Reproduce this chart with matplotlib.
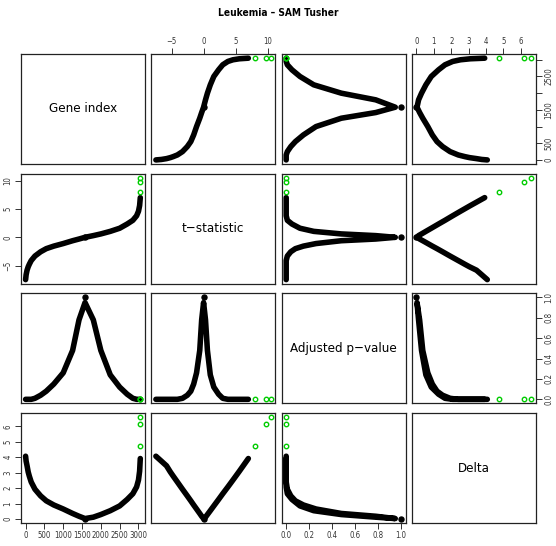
import matplotlib
matplotlib.use("Agg")
import matplotlib.pyplot as plt
from matplotlib import font_manager

# genes ordered by t-statistic; values sampled along that ordering
gene_index = [1, 15, 40, 70, 100, 150, 250, 400, 550, 750, 1000, 1250, 1420,
              1580, 1800, 2000, 2250, 2500, 2700, 2850, 2950, 3000, 3030, 3048]
t_stat = [-7.46, -6.6, -5.8, -5.2, -4.75, -4.1, -3.3, -2.55, -2.0, -1.55,
          -1.1, -0.6, -0.3, 0.0, 0.3, 0.6, 1.05, 1.6, 2.35, 3.0, 3.8, 4.6,
          5.6, 7.0]
adj_pvalue = [0.0, 0.0, 0.0, 0.0, 0.0, 0.0, 0.01, 0.04, 0.08, 0.15, 0.26,
              0.48, 0.78, 0.95, 0.78, 0.48, 0.24, 0.12, 0.05, 0.01, 0.0, 0.0,
              0.0, 0.0]
delta = [4.07, 3.75, 3.45, 3.05, 2.78, 2.4, 1.93, 1.5, 1.18, 0.91, 0.65,
         0.36, 0.18, 0.03, 0.12, 0.29, 0.54, 0.85, 1.27, 1.64, 2.08, 2.53,
         3.1, 3.92]

# gene sitting exactly at adjusted p = 1
peak_index = [1575]
peak_t = [0.0]
peak_pvalue = [1.0]
peak_delta = [0.0]

# the three top genes, highlighted
sig_index = [3049, 3050, 3051]
sig_t = [8.0, 9.8, 10.5]
sig_pvalue = [0.0, 0.0, 0.0]
sig_delta = [4.74, 6.18, 6.6]

labels = ["Gene index", "t\u2212statistic", "Adjusted p\u2212value", "Delta"]
ticks = [
    [0, 500, 1000, 1500, 2000, 2500, 3000],
    [-5, 0, 5, 10],
    [0.0, 0.2, 0.4, 0.6, 0.8, 1.0],
    [0, 1, 2, 3, 4, 5, 6],
]
tick_labels = [
    ["0", "500", "1000", "1500", "2000", "2500", "3000"],
    ["\u22125", "0", "5", "10"],
    ["0.0", "0.2", "0.4", "0.6", "0.8", "1.0"],
    ["0", "1", "2", "3", "4", "5", "6"],
]
# vertical gene-index axis only has room for every other label
index_vlabels = ["0", "500", "", "1500", "", "2500", ""]

cond = any(f.name == "DejaVu Sans" and f.stretch == "condensed"
           for f in font_manager.fontManager.ttflist)
if cond:
    plt.rcParams["font.family"] = ["DejaVu Sans"]
    plt.rcParams["font.stretch"] = "condensed"
else:
    plt.rcParams["font.family"] = ["Liberation Sans", "DejaVu Sans"]

main = [gene_index, t_stat, adj_pvalue, delta]
peak = [peak_index, peak_t, peak_pvalue, peak_delta]
extra = [sig_index, sig_t, sig_pvalue, sig_delta]


def padded(*series):
    lo = min(min(s) for s in series)
    hi = max(max(s) for s in series)
    pad = 0.04 * (hi - lo)
    return lo - pad, hi + pad


limits = [padded(m, p, e) for m, p, e in zip(main, peak, extra)]

W, H = 556, 546
fig = plt.figure(figsize=(W / 100, H / 100), dpi=100)

left0, top0 = 21, 54
col_step, row_step = 130.3, 119.7
pw, ph = 124, 110

tick_kw = dict(length=4, width=0.7, color="#333333",
               labelsize=5.6, labelcolor="#333333", pad=2)

for r in range(4):
    for c in range(4):
        x0 = left0 + c * col_step
        y0 = top0 + r * row_step
        ax = fig.add_axes([x0 / W, 1 - (y0 + ph) / H, pw / W, ph / H])
        for s in ax.spines.values():
            s.set_linewidth(0.9)
            s.set_color("#222222")
        ax.set_xticks([])
        ax.set_yticks([])

        if r == c:
            ax.text(0.5, 0.5, labels[r], transform=ax.transAxes,
                    ha="center", va="center", fontsize=9.5)
        else:
            ax.plot(main[c], main[r], color="black", lw=4.0,
                    solid_capstyle="round", solid_joinstyle="round")
            ax.plot(peak[c], peak[r], linestyle="none", marker="o",
                    ms=3.6, color="black")
            ax.plot(extra[c], extra[r], linestyle="none", marker="o",
                    ms=3.2, mfc="none", mec="#00CC00", mew=1.0)

        if r == 0 and c % 2 == 1:
            ax.set_xticks(ticks[c], tick_labels[c])
            ax.xaxis.tick_top()
            ax.tick_params(axis="x", **tick_kw)
        if r == 3 and c % 2 == 0:
            ax.set_xticks(ticks[c], tick_labels[c])
            ax.tick_params(axis="x", **tick_kw)
        if c == 0 and r % 2 == 1:
            ax.set_yticks(ticks[r], tick_labels[r])
            ax.tick_params(axis="y", labelrotation=90, **tick_kw)
            for lab in ax.get_yticklabels():
                lab.set_va("center")
        if c == 3 and r % 2 == 0:
            ylabs = index_vlabels if r == 0 else tick_labels[r]
            ax.set_yticks(ticks[r], ylabs)
            ax.yaxis.tick_right()
            ax.tick_params(axis="y", labelrotation=90, **tick_kw)
            for lab in ax.get_yticklabels():
                lab.set_va("center")
        ax.set_xlim(*limits[c])
        ax.set_ylim(*limits[r])

fig.text(0.5, 1 - 13 / H, "Leukemia \u2013 SAM Tusher", ha="center",
         va="center", fontsize=7.3, fontweight="bold")

fig.savefig("out.png", dpi=100)
